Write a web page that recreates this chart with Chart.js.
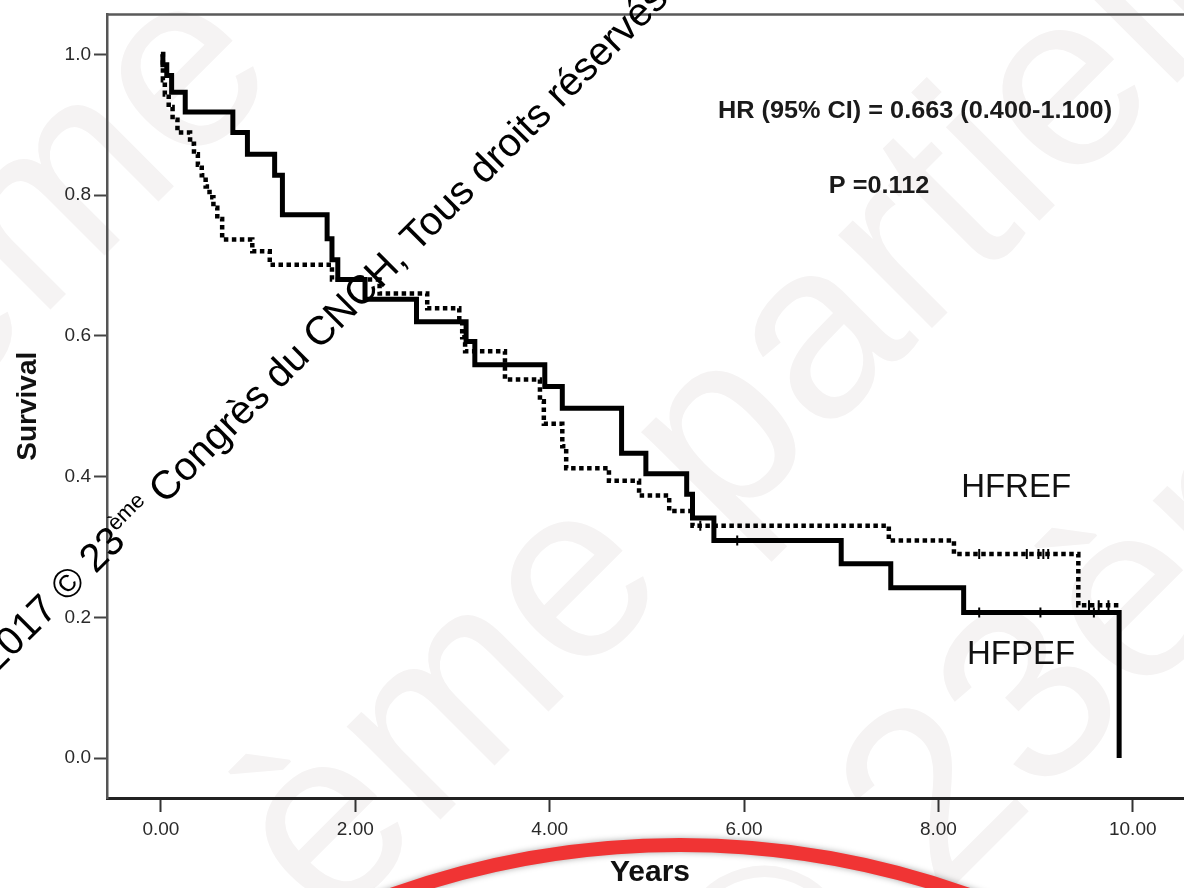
<!DOCTYPE html>
<html>
<head>
<meta charset="utf-8">
<script src="https://cdn.jsdelivr.net/npm/chart.js@4/dist/chart.umd.min.js"></script>
<style>
  html, body { margin: 0; padding: 0; background: #fff; overflow: hidden; }
  #wrap { position: relative; width: 1184px; height: 888px; overflow: hidden; }
</style>
</head>
<body>
<div id="wrap"><canvas id="myChart" width="1200" height="888"></canvas></div>
<script>
// HFPEF (solid) - Kaplan-Meier steps
const pefTimes = [0, 0.02, 0.06, 0.11, 0.25, 0.74, 0.89, 1.17, 1.25, 1.71, 1.76, 1.82, 2.10, 2.63, 3.14, 3.23, 3.95, 4.13, 4.74, 4.99, 5.41, 5.47, 5.69, 7.00, 7.51, 8.26, 9.86];
const pefSurv  = [1.0, 0.985, 0.97, 0.946, 0.918, 0.889, 0.858, 0.828, 0.772, 0.738, 0.708, 0.680, 0.652, 0.620, 0.592, 0.559, 0.528, 0.497, 0.433, 0.404, 0.375, 0.341, 0.309, 0.276, 0.242, 0.207, 0.0];

// HFREF (dotted)
const refTimes = [0, 0.02, 0.04, 0.08, 0.12, 0.17, 0.30, 0.34, 0.38, 0.42, 0.46, 0.50, 0.54, 0.58, 0.63, 0.94, 1.12, 1.76, 2.25, 2.74, 3.07, 3.10, 3.13, 3.54, 3.90, 3.94, 4.13, 4.17, 4.61, 4.92, 5.23, 5.47, 7.49, 8.16, 9.44, 9.86];
const refSurv  = [1.0, 0.963, 0.943, 0.925, 0.907, 0.889, 0.873, 0.858, 0.843, 0.828, 0.812, 0.797, 0.782, 0.766, 0.737, 0.720, 0.701, 0.680, 0.660, 0.639, 0.618, 0.598, 0.578, 0.538, 0.507, 0.475, 0.443, 0.412, 0.394, 0.373, 0.351, 0.330, 0.309, 0.290, 0.217, 0.217];

// censored cases (tick marks)
const pefCensor = [5.93, 8.42, 9.05, 9.60];
const refCensor = [5.55, 8.42, 8.91, 9.03, 9.08, 9.13, 9.55, 9.65, 9.75];

const xTickValues = [0, 2, 4, 6, 8, 10];
const yTickValues = [0, 0.2, 0.4, 0.6, 0.8, 1.0];

const noteTexts = ['HR (95% CI) = 0.663 (0.400-1.100)', 'P =0.112'];
const noteX = [7.76, 7.39];
const noteY = [0.918, 0.812];

const groupLabels = ['HFREF', 'HFPEF'];
const groupLabelX = [8.80, 8.85];
const groupLabelY = [0.384, 0.146];

const copyrightParts = ['2017 © 23', 'ème', ' Congrès du CNCH, Tous droits réservés'];

const FONT = "'Liberation Sans', Arial, Helvetica, sans-serif";

function survivalAt(times, surv, t) {
  let s = surv[0];
  for (let i = 0; i < times.length; i++) {
    if (times[i] <= t) s = surv[i];
  }
  return s;
}

const toPoints = (xs, ys) => xs.map((x, i) => ({x: x, y: ys[i]}));

// frame line along the top of the plot box
const framePlugin = {
  id: 'frame',
  beforeDatasetsDraw(chart) {
    const {ctx, chartArea: a} = chart;
    ctx.save();
    ctx.strokeStyle = '#5a5a5a';
    ctx.lineWidth = 2.5;
    ctx.beginPath();
    ctx.moveTo(a.left, a.top);
    ctx.lineTo(a.right, a.top);
    ctx.lineTo(a.right, a.bottom);
    ctx.stroke();
    ctx.restore();
  }
};

// faint background watermark letters
const watermarkPlugin = {
  id: 'watermark',
  beforeDraw(chart) {
    const ctx = chart.ctx;
    const marks = [['ème partielle', 330, 930], ['© 23ème', 760, 1080], ['ème', -60, 420]];
    marks.forEach(m => {
      ctx.save();
      ctx.fillStyle = '#f5f3f3';
      ctx.font = '250px ' + FONT;
      ctx.translate(m[1], m[2]);
      ctx.rotate(-Math.PI / 4);
      ctx.fillText(m[0], 0, 0);
      ctx.restore();
    });
  }
};

// text notes inside the plot
const notesPlugin = {
  id: 'notes',
  afterDatasetsDraw(chart) {
    const {ctx, scales: {x, y}} = chart;
    ctx.save();
    ctx.fillStyle = '#1a1a1a';
    ctx.textAlign = 'center';
    ctx.textBaseline = 'middle';
    ctx.font = 'bold 23px ' + FONT;
    const sx = 394 / ctx.measureText(noteTexts[0]).width;
    noteTexts.forEach((t, i) => {
      ctx.save();
      ctx.translate(x.getPixelForValue(noteX[i]), y.getPixelForValue(noteY[i]));
      ctx.scale(sx, 1);
      ctx.fillText(t, 0, 0);
      ctx.restore();
    });
    ctx.font = '33px ' + FONT;
    ctx.fillStyle = '#111';
    groupLabels.forEach((t, i) => {
      ctx.fillText(t, x.getPixelForValue(groupLabelX[i]), y.getPixelForValue(groupLabelY[i]));
    });
    ctx.restore();
  }
};

// diagonal copyright line and red ring on top
const overlayPlugin = {
  id: 'overlay',
  afterDraw(chart) {
    const ctx = chart.ctx;
    ctx.save();
    ctx.translate(-4, 674);
    ctx.rotate(-Math.PI / 4);
    ctx.fillStyle = '#000';
    ctx.textBaseline = 'alphabetic';
    ctx.font = '40px ' + FONT;
    let pos = 0;
    ctx.fillText(copyrightParts[0], pos, 0);
    pos += ctx.measureText(copyrightParts[0]).width;
    ctx.font = '22px ' + FONT;
    ctx.fillText(copyrightParts[1], pos, -16);
    pos += ctx.measureText(copyrightParts[1]).width;
    ctx.font = '40px ' + FONT;
    ctx.fillText(copyrightParts[2], pos, 0);
    ctx.restore();

    ctx.save();
    ctx.strokeStyle = '#f03434';
    ctx.lineWidth = 14;
    ctx.shadowColor = 'rgba(0,0,0,0.35)';
    ctx.shadowBlur = 6;
    ctx.beginPath();
    ctx.arc(680, 1705, 860, 0, Math.PI * 2);
    ctx.stroke();
    ctx.restore();
  }
};

const data = {
  datasets: [
    {
      label: 'HFPEF',
      data: toPoints(pefTimes, pefSurv),
      stepped: true,
      borderColor: '#000',
      borderWidth: 5,
      pointRadius: 0,
      fill: false
    },
    {
      label: 'HFREF',
      data: toPoints(refTimes, refSurv),
      stepped: true,
      borderColor: '#000',
      borderWidth: 4.5,
      borderDash: [4.5, 3.5],
      pointRadius: 0,
      fill: false
    },
    {
      label: 'HFPEF censored',
      data: pefCensor.map(t => ({x: t, y: survivalAt(pefTimes, pefSurv, t)})),
      showLine: false,
      pointStyle: 'line',
      rotation: 90,
      pointRadius: 5,
      borderWidth: 2,
      borderColor: '#000'
    },
    {
      label: 'HFREF censored',
      data: refCensor.map(t => ({x: t, y: survivalAt(refTimes, refSurv, t)})),
      showLine: false,
      pointStyle: 'line',
      rotation: 90,
      pointRadius: 5,
      borderWidth: 2,
      borderColor: '#000'
    }
  ]
};

const config = {
  type: 'line',
  data: data,
  options: {
    responsive: false,
    animation: false,
    layout: { padding: { top: 12, right: 6, left: 0, bottom: 0 } },
    plugins: {
      legend: { display: false },
      tooltip: { enabled: false }
    },
    scales: {
      x: {
        type: 'linear',
        min: -0.555,
        max: 10.62,
        afterBuildTicks: scale => { scale.ticks = xTickValues.map(v => ({value: v})); },
        afterFit: scale => { scale.height = 90; },
        ticks: {
          autoSkip: false,
          maxRotation: 0,
          padding: 6,
          color: '#2a2a2a',
          font: { family: FONT, size: 19 },
          callback: v => Number(v).toFixed(2)
        },
        grid: { drawOnChartArea: false, drawTicks: true, tickLength: 14, tickWidth: 2, color: '#333' },
        border: { display: true, color: '#222', width: 3 },
        title: {
          display: true,
          text: 'Years',
          color: '#111',
          font: { family: FONT, size: 30, weight: 'bold', lineHeight: 1 },
          padding: { top: 0, bottom: 0 }
        }
      },
      y: {
        min: -0.0567,
        max: 1.0567,
        afterBuildTicks: scale => { scale.ticks = yTickValues.map(v => ({value: v})); },
        afterFit: scale => { scale.width = 107; },
        ticks: {
          padding: 3,
          color: '#2a2a2a',
          font: { family: FONT, size: 19 },
          callback: v => Number(v).toFixed(1)
        },
        grid: { drawOnChartArea: false, drawTicks: true, tickLength: 13, tickWidth: 2, color: '#444' },
        border: { display: true, color: '#555', width: 2.5 },
        title: {
          display: true,
          text: 'Survival',
          color: '#111',
          font: { family: FONT, size: 28, weight: 'bold', lineHeight: 1.2 },
          padding: { top: 11, bottom: 0 }
        }
      }
    }
  },
  plugins: [watermarkPlugin, framePlugin, notesPlugin, overlayPlugin]
};

var ctx = document.getElementById('myChart').getContext('2d');
var myChart = new Chart(ctx, config);
</script>
</body>
</html>
